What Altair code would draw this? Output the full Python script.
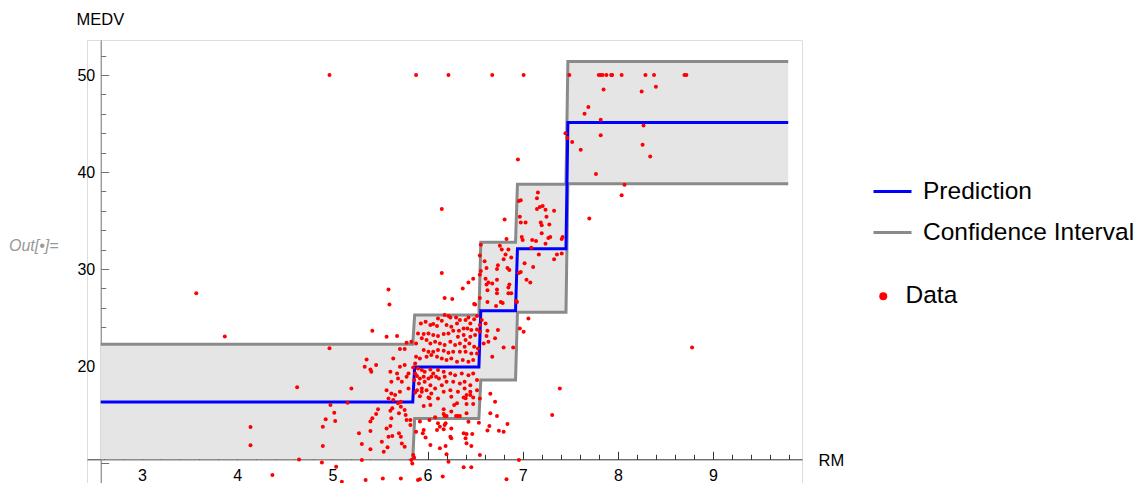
import altair as alt
import pandas as pd

FONT = "Liberation Sans"

# ---------------- step model (prediction + confidence band) ----------------
STEP_RM = [2.566, 5.845, 5.865, 6.540, 6.560, 6.925, 6.945, 7.455, 7.475, 9.79]
PRED = [16.3, 16.3, 19.9, 19.9, 25.7, 25.7, 32.1, 32.1, 45.1, 45.1]
CI_LO = [10.38, 10.38, 14.6, 14.6, 18.55, 18.55, 25.55, 25.55, 38.8, 38.8]
CI_HI = [22.25, 22.25, 25.27, 25.27, 32.75, 32.75, 38.75, 38.75, 51.4, 51.4]

# ---------------- data points (RM, MEDV) ----------------
PTS_CAPPED = [(4.97, 50), (5.88, 50), (6.22, 50), (6.68, 50), (7.01, 50), (7.49, 50),
              (7.80, 50), (7.82, 50), (7.84, 50), (7.88, 50), (7.93, 50), (7.94, 50),
              (8.04, 50), (8.29, 50), (8.38, 50), (8.70, 50), (8.72, 50)]

PTS_HIGH = [(7.85, 48.5), (8.25, 48.3), (8.40, 48.8), (7.69, 46.7), (7.65, 46.0), (7.82, 45.4),
            (8.27, 44.8), (7.45, 44.0), (7.47, 43.5), (7.82, 43.8), (7.52, 43.1), (7.61, 42.3),
            (8.26, 42.8), (8.34, 41.6), (7.77, 39.8), (8.07, 38.7), (8.04, 37.6), (7.70, 35.2),
            (6.95, 41.3)]

PTS_UPPER_MID = [(6.81, 35.1), (7.16, 37.9), (7.15, 37.3), (6.96, 37.0), (6.98, 37.1), (7.15, 36.2),
                 (7.18, 36.4), (7.21, 36.5), (7.24, 36.1), (7.33, 36.0), (6.97, 35.4), (6.98, 34.8),
                 (7.03, 34.8), (7.25, 35.4), (7.19, 34.8), (7.20, 34.5), (7.28, 34.6), (7.20, 33.7),
                 (6.83, 33.1), (6.99, 33.3), (7.00, 33.0), (7.10, 33.0), (7.14, 32.9), (7.24, 32.6),
                 (7.27, 33.2), (7.29, 33.3), (7.42, 33.3), (7.41, 33.1), (6.76, 32.4), (6.78, 32.0),
                 (6.85, 32.0), (6.82, 31.5), (6.88, 31.2), (6.80, 31.0), (7.09, 32.2), (7.17, 31.5),
                 (7.36, 31.5), (7.41, 31.6), (7.33, 31.0), (6.56, 32.5), (6.55, 31.4), (6.60, 30.8),
                 (6.62, 30.1), (6.73, 30.0), (6.74, 30.4), (6.84, 30.1), (6.86, 29.9), (7.02, 30.6),
                 (7.11, 30.2), (6.56, 29.8), (6.55, 29.4), (6.61, 29.0), (6.64, 28.6), (6.68, 28.5),
                 (6.62, 28.4), (6.63, 27.8), (6.73, 28.9), (6.73, 27.9), (6.73, 27.5), (6.86, 28.4),
                 (6.85, 28.1), (6.85, 27.5), (6.88, 27.5), (6.96, 29.6), (6.98, 29.7), (7.04, 28.9),
                 (7.08, 28.6), (6.37, 28.0), (6.43, 28.6), (6.48, 29.0), (6.55, 27.0), (6.49, 26.4),
                 (6.63, 26.6), (6.72, 26.2), (6.77, 26.6), (6.79, 26.5), (6.94, 26.6), (6.93, 26.7)]

PTS_SCATTERED = [(6.15, 36.2), (6.15, 29.6), (6.18, 27.0), (6.26, 26.9), (6.50, 26.35),
                 (5.60, 26.35), (5.59, 27.9), (3.57, 27.5), (3.87, 23.05), (4.97, 21.82),
                 (5.42, 23.64), (4.63, 17.8), (5.20, 17.69), (5.16, 16.22), (5.36, 20.68),
                 (5.34, 19.93), (5.40, 19.65), (5.41, 19.41), (5.46, 20.1), (8.78, 21.9)]

PTS_CLUSTER = [
    (6.18, 25.25), (6.22, 25.15), (6.24, 25.01), (6.11, 24.91), (6.15, 24.67), (6.30, 25.01),
    (6.34, 24.74), (6.40, 24.74), (6.43, 25.01), (6.45, 24.39), (6.49, 24.81), (6.52, 25.15),
    (6.57, 24.74), (6.55, 24.22), (6.61, 24.39), (5.98, 24.57), (5.93, 24.39), (6.03, 24.22),
    (6.06, 24.33), (6.10, 24.12), (6.20, 24.22), (6.25, 24.05), (6.31, 24.39), (6.38, 23.88),
    (6.42, 23.88), (6.46, 23.71), (6.52, 23.77), (6.33, 23.64), (5.90, 23.36), (5.96, 23.29),
    (6.01, 23.36), (6.06, 23.19), (6.11, 23.09), (6.17, 23.29), (6.22, 23.36), (6.27, 23.64),
    (6.32, 23.02), (6.38, 23.19), (6.40, 22.67), (6.45, 23.02), (6.50, 23.19), (6.55, 23.53),
    (6.62, 23.09), (6.64, 22.50), (6.59, 22.33),
    (5.78, 22.40), (5.83, 22.50), (5.88, 22.33), (5.94, 22.85), (5.99, 22.67), (6.03, 22.33),
    (6.08, 22.50), (6.13, 22.33), (6.18, 22.16), (6.24, 22.50), (6.29, 22.16), (6.34, 22.33),
    (6.39, 21.99), (6.44, 22.33), (6.49, 21.99), (6.53, 21.81), (5.96, 21.64), (6.01, 21.47),
    (6.06, 21.47), (6.11, 21.64), (6.17, 21.57), (6.22, 21.37), (6.27, 21.47), (6.34, 21.47),
    (6.40, 21.47), (6.46, 21.30), (6.52, 21.30), (5.71, 21.75), (5.76, 21.75), (5.88, 20.95),
    (5.92, 20.78), (5.99, 20.95), (6.04, 21.13), (6.10, 20.95), (6.15, 20.78), (6.20, 20.61),
    (6.25, 20.78), (6.31, 20.44), (6.37, 20.61), (6.43, 20.44), (6.48, 20.61), (5.87, 20.27),
    (5.64, 20.78), (5.57, 23.02), (5.68, 23.09),
    (5.85, 19.85), (5.90, 19.75), (5.94, 19.58), (5.97, 19.41), (6.03, 19.65), (6.06, 19.23),
    (6.11, 19.58), (6.17, 19.41), (5.87, 19.23), (5.89, 18.96), (5.92, 18.72), (5.96, 18.89),
    (6.01, 18.72), (6.04, 18.89), (6.09, 18.89), (6.12, 18.72), (6.18, 18.89), (6.24, 19.23),
    (6.29, 19.06), (6.36, 19.23), (6.43, 19.06), (6.48, 19.23), (5.61, 19.41), (5.68, 19.23),
    (5.71, 19.92), (5.76, 20.10), (5.80, 19.23), (5.86, 18.55), (5.91, 18.20), (5.97, 18.37),
    (6.03, 18.03), (6.08, 17.69), (6.15, 18.03), (6.20, 18.37), (6.27, 18.37), (6.34, 18.20),
    (6.39, 18.37), (6.45, 18.03), (6.52, 18.55), (5.62, 18.37), (5.69, 18.72), (5.73, 18.37),
    (5.78, 18.89), (5.80, 17.69), (5.89, 17.51), (5.94, 17.69), (5.99, 17.51), (6.04, 17.17),
    (6.17, 17.34), (6.24, 17.51), (6.32, 17.34), (6.39, 17.69), (6.45, 17.34), (6.52, 17.51),
    (5.57, 17.51), (5.62, 17.17), (5.71, 17.34), (5.59, 16.65), (5.66, 17.00), (5.92, 16.89),
    (6.01, 16.76), (6.11, 16.65), (6.25, 16.82), (6.38, 16.76), (6.48, 16.76), (6.55, 16.65),
    (5.87, 17.26), (5.94, 17.36), (6.02, 16.67), (6.03, 15.98), (5.96, 15.88), (6.17, 15.54),
    (6.17, 15.06), (6.28, 15.98), (6.31, 16.16), (6.41, 16.09), (6.48, 16.09), (6.41, 17.01),
    (6.45, 17.01), (6.40, 16.67), (6.32, 14.85), (6.20, 14.85), (6.41, 15.12), (6.25, 15.30),
]

PTS_BAND_RIGHT = [(6.74, 23.71), (6.71, 22.85), (6.80, 21.92), (6.90, 21.92), (6.97, 23.88),
                  (7.01, 23.54), (7.06, 24.91), (6.68, 20.96), (6.63, 23.64)]

PTS_LOW_RIGHT = [(6.66, 17.15), (6.71, 16.32), (6.66, 15.12), (6.73, 14.84), (6.84, 14.02),
                 (6.65, 13.82), (6.63, 13.34), (6.75, 13.32), (6.80, 13.23), (7.39, 17.69),
                 (7.31, 14.94), (6.54, 14.15)]

PTS_LOW_MID = [(6.03, 11.86), (5.98, 12.62), (5.96, 13.41), (5.95, 13.06), (5.88, 13.23),
               (5.92, 14.27), (6.02, 14.44), (6.08, 14.71), (6.11, 14.09), (6.10, 13.41),
               (6.17, 13.48), (6.18, 13.92), (6.19, 14.09), (6.18, 14.85), (6.25, 12.55),
               (6.19, 11.76), (6.38, 13.06), (6.41, 12.99), (6.47, 12.99), (6.40, 12.55),
               (6.41, 12.03), (6.46, 11.76), (6.43, 14.26), (6.30, 14.84), (6.34, 14.84),
               (6.25, 13.57), (6.24, 12.71), (6.13, 13.74), (6.13, 11.51), (6.20, 10.90),
               (6.55, 10.83), (5.86, 10.55), (5.85, 10.82)]

PTS_LOW_LEFT = [(4.98, 15.98), (5.02, 15.19), (4.93, 14.51), (5.03, 14.33), (4.90, 13.75),
                (4.90, 11.76), (5.46, 15.06), (5.48, 15.54), (5.42, 14.61), (5.40, 14.27),
                (5.40, 13.30), (5.28, 13.06), (5.31, 11.96), (5.40, 11.41), (4.14, 13.71),
                (4.14, 11.82), (5.54, 11.17), (5.58, 11.62), (5.52, 12.20), (5.59, 12.72),
                (5.63, 12.79), (5.61, 13.82), (5.62, 14.61), (5.63, 15.64), (5.61, 15.40),
                (5.70, 15.12), (5.72, 15.81), (5.76, 15.47), (5.77, 14.95), (5.70, 13.06),
                (5.72, 12.72), (5.82, 14.44), (5.64, 16.49), (5.69, 16.15), (5.72, 16.32),
                (5.73, 12.02), (5.76, 11.68), (5.78, 14.43), (5.82, 13.91), (5.57, 13.57)]

PTS_BELOW_AXIS = [(4.65, 10.37), (4.89, 10.06), (5.04, 9.62), (4.37, 8.76), (5.10, 8.07),
                  (5.31, 10.31), (5.35, 8.24), (5.53, 8.41), (5.72, 8.41), (5.83, 10.31),
                  (5.84, 9.96), (5.92, 8.32), (5.90, 8.25), (6.16, 8.60), (6.22, 10.14),
                  (6.38, 9.56), (6.46, 9.56), (6.83, 8.32), (6.96, 10.31)]

ALL_PTS = (PTS_CAPPED + PTS_HIGH + PTS_UPPER_MID + PTS_SCATTERED + PTS_CLUSTER +
           PTS_BAND_RIGHT + PTS_LOW_RIGHT + PTS_LOW_MID + PTS_LOW_LEFT + PTS_BELOW_AXIS)

# ---------------- axis tick values ----------------
X_LABELS = [3, 4, 5, 6, 7, 8, 9]
X_TICKS = [2.6, 2.8, 3.0, 3.2, 3.4, 3.6, 3.8, 4.0, 4.2, 4.4, 4.6, 4.8, 5.0, 5.2, 5.4, 5.6,
           5.8, 6.0, 6.2, 6.4, 6.6, 6.8, 7.0, 7.2, 7.4, 7.6, 7.8, 8.0, 8.2, 8.4, 8.6, 8.8,
           9.0, 9.2, 9.4, 9.6, 9.8]
Y_LABELS = [20, 30, 40, 50]
Y_TICKS = [10, 12, 14, 16, 18, 20, 22, 24, 26, 28, 30, 32, 34, 36, 38, 40, 42, 44, 46,
           48, 50, 52]

# ---------------- tables ----------------
band_df = pd.DataFrame({"rm": STEP_RM, "lo": CI_LO, "hi": CI_HI})
# the lower bound of the first step lies on/below the x axis and is clipped there
lo_rm, lo_v = STEP_RM[1:], CI_LO[1:]
ci_df = pd.DataFrame({
    "rm": lo_rm + STEP_RM,
    "medv": lo_v + CI_HI,
    "part": ["lo"] * len(lo_rm) + ["hi"] * len(STEP_RM),
    "series": ["Confidence Interval"] * (len(lo_rm) + len(STEP_RM)),
})
pred_df = pd.DataFrame({"rm": STEP_RM, "medv": PRED, "series": ["Prediction"] * len(STEP_RM)})
pts_df = pd.DataFrame({"rm": [p[0] for p in ALL_PTS], "medv": [p[1] for p in ALL_PTS],
                       "label": ["Data"] * len(ALL_PTS)})

W, H = 715, 443
X_DOMAIN = [2.422, 9.935]
Y_DOMAIN = [7.94, 53.61]
xs = alt.Scale(domain=X_DOMAIN, nice=False, zero=False)
ys = alt.Scale(domain=Y_DOMAIN, nice=False, zero=False)

x_tick_axis = alt.Axis(orient="top", offset=-419.3, values=X_TICKS, labels=False, title=None,
                       grid=False, domainColor="#333333", tickColor="#333333", domainWidth=1,
                       tickWidth=1,
                       tickSize={"condition": {"test": "abs(datum.value - round(datum.value)) < 0.001",
                                               "value": 8}, "value": 5})
y_tick_axis = alt.Axis(orient="right", offset=-701.3, values=Y_TICKS, labels=False, title=None,
                       grid=False, domainColor="#707070", tickColor="#707070", domainWidth=1,
                       tickWidth=1,
                       tickSize={"condition": {"test": "datum.value % 10 === 0", "value": 8},
                                 "value": 5})
x_label_axis = alt.Axis(orient="bottom", offset=-23.7, values=X_LABELS, ticks=False, domain=False,
                        grid=False, format="d", labelFont=FONT, labelFontSize=16, labelColor="black",
                        labelPadding=8, labelFlush=False, labelOverlap=False,
                        title="RM", titleFont=FONT, titleFontSize=16.5, titleFontWeight="normal",
                        titleColor="black", titleX=731, titleY=6.4, titleAlign="left",
                        titleBaseline="alphabetic", titleAngle=0)
y_label_axis = alt.Axis(orient="left", offset=-13.7, values=Y_LABELS, ticks=False, domain=False,
                        grid=False, format="d", labelFont=FONT, labelFontSize=16, labelColor="black",
                        labelPadding=6, labelFlush=False, labelOverlap=False,
                        title="MEDV", titleFont=FONT, titleFontSize=16.5, titleFontWeight="normal",
                        titleColor="black", titleAngle=0, titleX=-24.7, titleY=-16,
                        titleAlign="left", titleBaseline="alphabetic")

line_color = alt.Color(
    "series:N",
    scale=alt.Scale(domain=["Prediction", "Confidence Interval"], range=["#0000ff", "#8a8a8a"]),
    legend=alt.Legend(orient="none", legendX=785, legendY=131, title=None, symbolType="stroke",
                      symbolSize=1444, symbolStrokeWidth=3, labelFont=FONT, labelFontSize=24.5,
                      labelColor="black", labelOffset=10, rowPadding=9, padding=0, labelLimit=400),
)

band = alt.Chart(band_df).mark_area(color="#e5e5e5", opacity=1).encode(
    x=alt.X("rm:Q", scale=xs, axis=x_tick_axis),
    y=alt.Y("lo:Q", scale=ys, axis=y_tick_axis),
    y2="hi:Q",
)

ci_lines = alt.Chart(ci_df).mark_line(strokeWidth=3).encode(
    x=alt.X("rm:Q", scale=xs, axis=x_label_axis),
    y=alt.Y("medv:Q", scale=ys, axis=y_label_axis),
    detail="part:N",
    color=line_color,
    order="rm:Q",
)

pred_line = alt.Chart(pred_df).mark_line(strokeWidth=3).encode(
    x=alt.X("rm:Q", scale=xs, axis=None),
    y=alt.Y("medv:Q", scale=ys, axis=None),
    color=line_color,
    order="rm:Q",
)

points = alt.Chart(pts_df).mark_circle(size=16, opacity=1).encode(
    x=alt.X("rm:Q", scale=xs, axis=None),
    y=alt.Y("medv:Q", scale=ys, axis=None),
    fill=alt.Fill("label:N", scale=alt.Scale(domain=["Data"], range=["#ff0000"]),
                  legend=alt.Legend(orient="none", legendX=784, legendY=244, title=None,
                                    symbolType="circle", symbolSize=64, symbolStrokeWidth=0,
                                    symbolOpacity=1, labelFont=FONT, labelFontSize=24.5,
                                    labelColor="black", labelOffset=10, padding=0,
                                    labelLimit=400)),
)

out_label = alt.Chart(pd.DataFrame({"t": ["Out[\u2022]="]})).mark_text(
    align="left", baseline="alphabetic", font=FONT, fontSize=16, fontStyle="italic",
    color="#999999",
).encode(x=alt.value(-78), y=alt.value(211), text="t:N")

chart = alt.layer(band, ci_lines, pred_line, points, out_label).resolve_axis(
    x="independent", y="independent"
).properties(
    width=W, height=H,
    autosize=alt.AutoSizeParams(type="none"),
    padding={"left": 79, "top": 32, "right": 334, "bottom": 10},
).configure_view(stroke=None).configure(background="white")

chart.save("out.html", embed_options={"renderer": "svg", "actions": False})
